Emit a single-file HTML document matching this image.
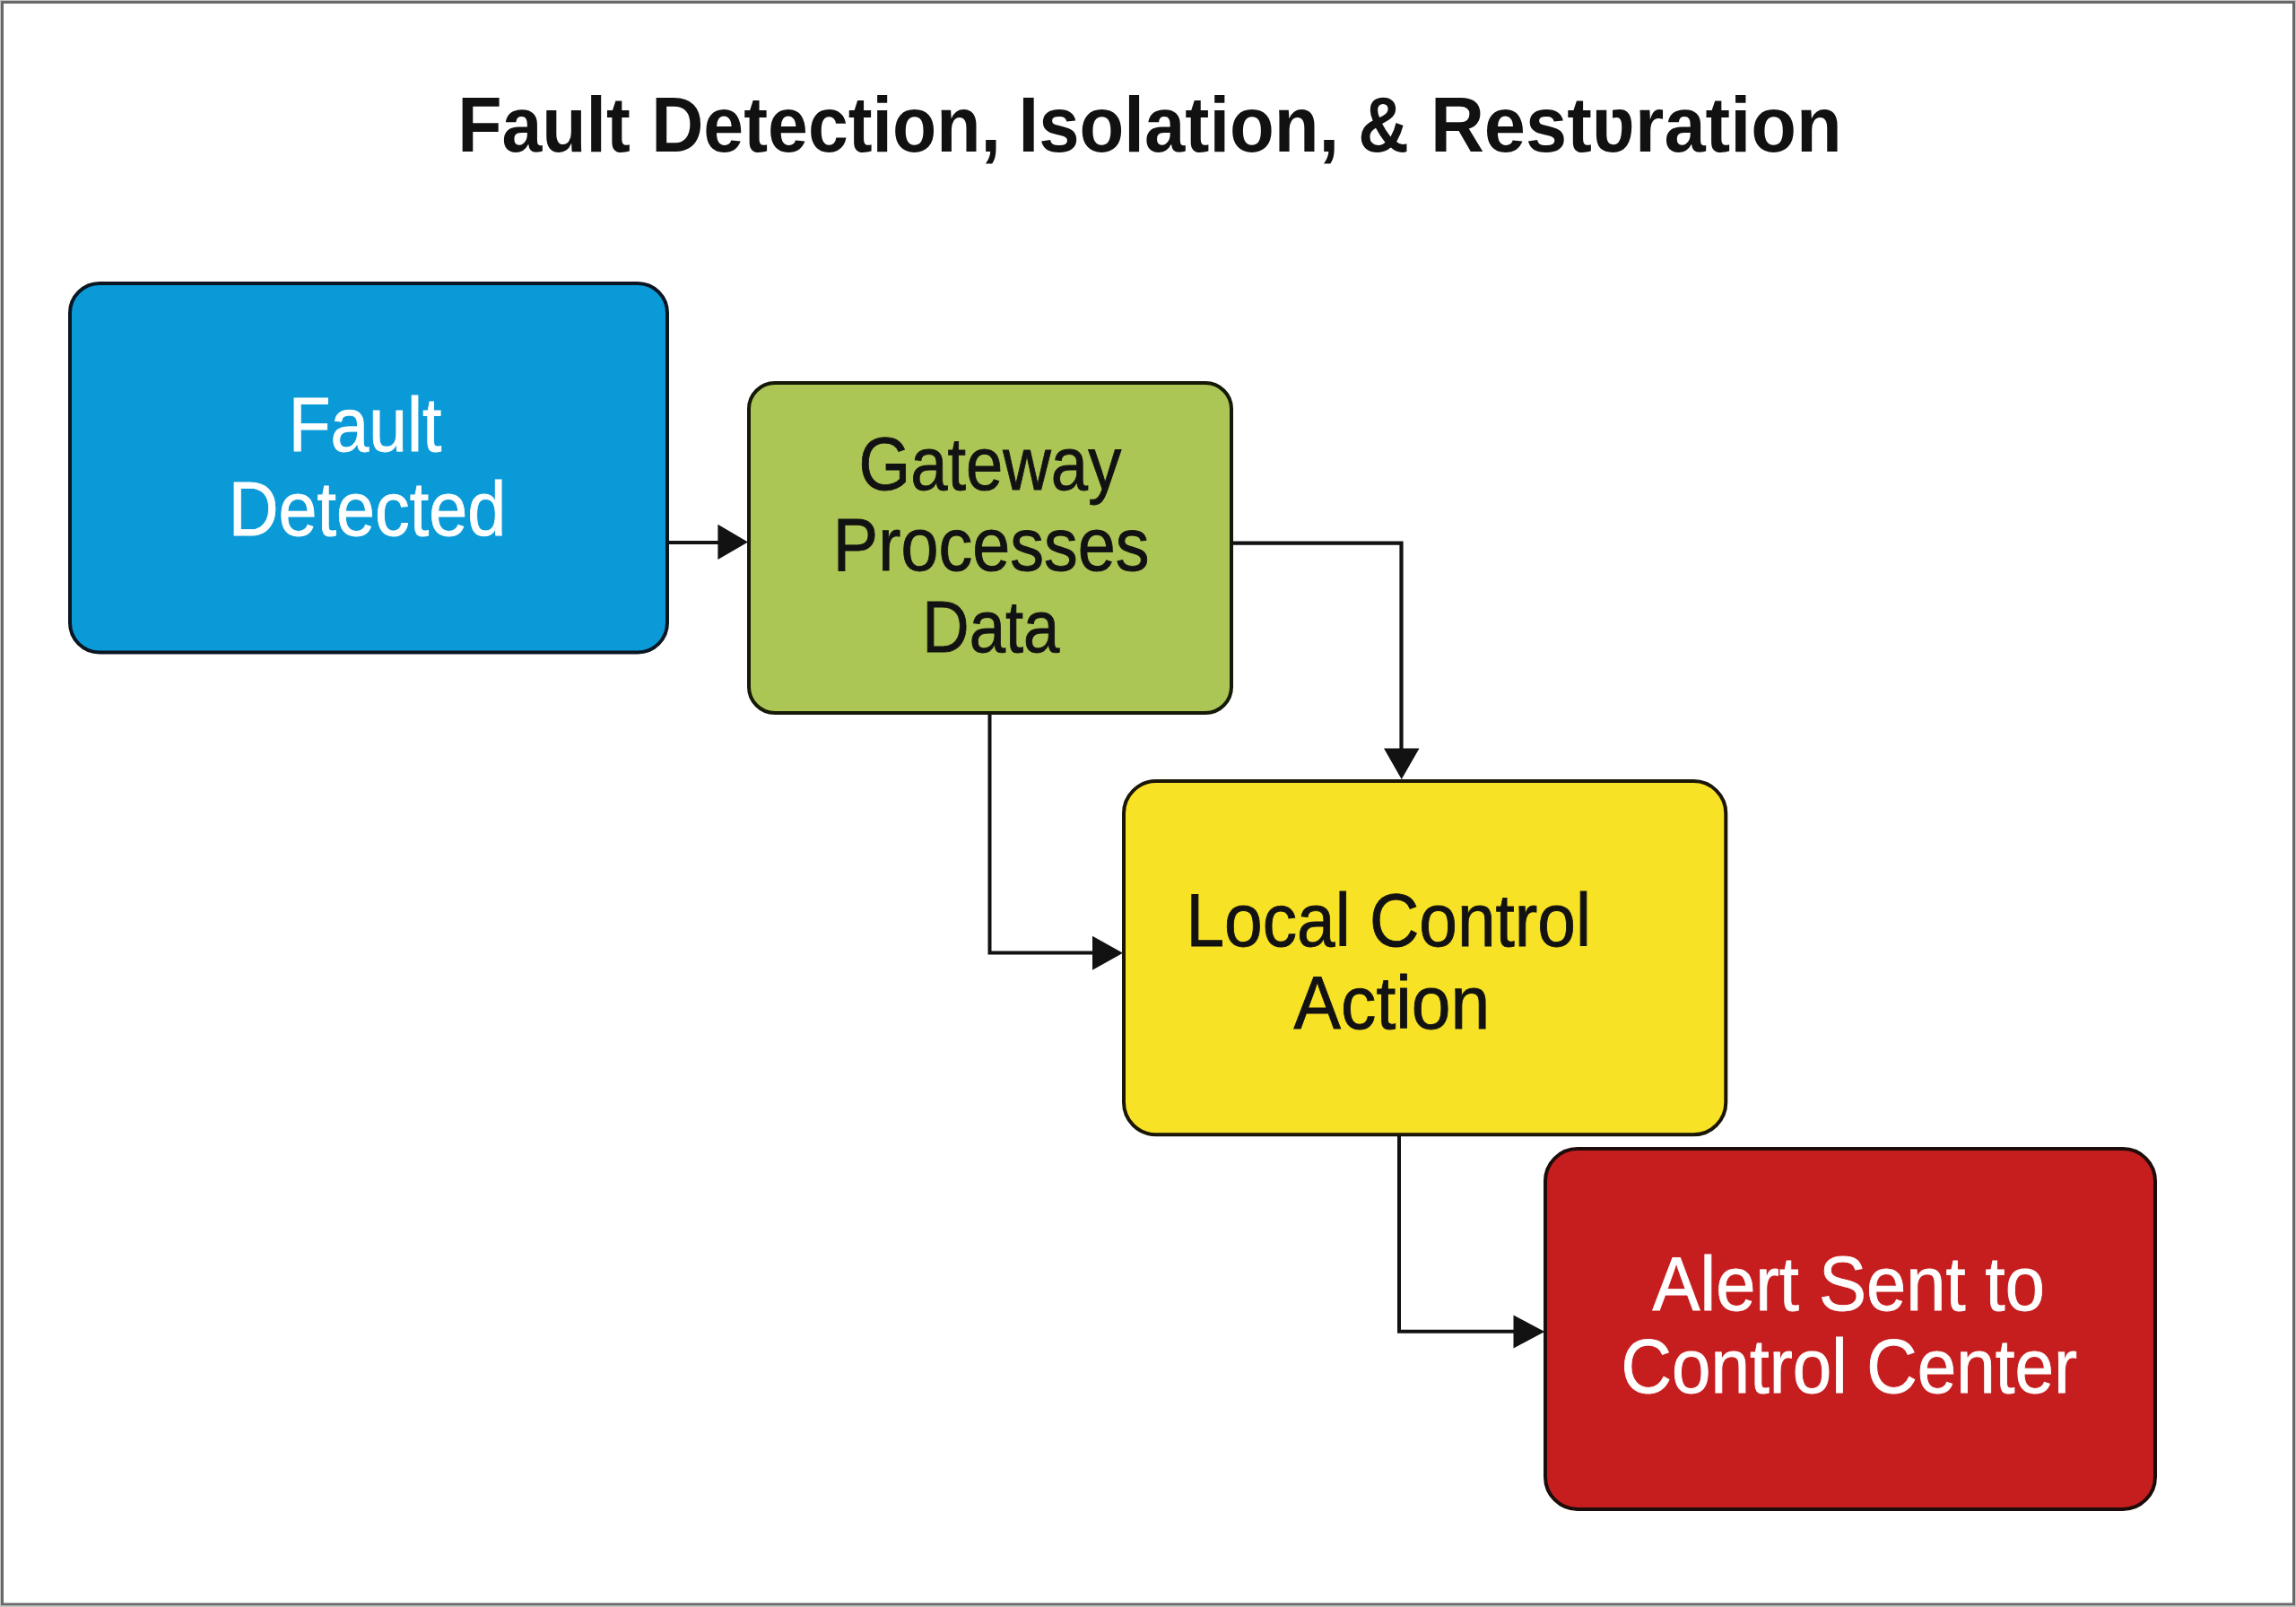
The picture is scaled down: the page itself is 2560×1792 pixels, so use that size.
<!DOCTYPE html>
<html><head><meta charset="utf-8"><title>Fault Detection, Isolation, &amp; Restoration</title>
<style>
html,body{margin:0;padding:0;background:#fff;}
body{width:2560px;height:1792px;overflow:hidden;position:relative;}
svg{position:absolute;left:0;top:0;display:block;}
text{font-family:"Liberation Sans", sans-serif;}
</style></head>
<body>
<svg width="2560" height="1792" viewBox="0 0 2560 1792">
<rect x="0" y="0" width="2560" height="1792" fill="#ffffff"/>
<rect x="0.5" y="0.5" width="2559" height="1791" fill="none" stroke="#c4c4c4" stroke-width="1"/>
<rect x="2.5" y="2.5" width="2555" height="1786.5" fill="none" stroke="#686868" stroke-width="3"/>

<path d="M746 605 H802" stroke="#121212" stroke-width="4" fill="none"/>
<polygon points="800.4,584.7 834,604.4 800.4,624" fill="#121212"/>
<path d="M1375 605.7 H1562.5 V836" stroke="#121212" stroke-width="4.2" fill="none"/>
<polygon points="1543,834.6 1582.5,834.6 1562.7,869" fill="#121212"/>
<path d="M1103.5 797 V1062.5 H1219" stroke="#121212" stroke-width="4" fill="none"/>
<polygon points="1218,1043.8 1252,1062.8 1218,1081.8" fill="#121212"/>
<path d="M1560 1267 V1484.7 H1689" stroke="#121212" stroke-width="4" fill="none"/>
<polygon points="1687.5,1466.4 1722.3,1485 1687.5,1503.6" fill="#121212"/>

<rect x="78.0" y="316.0" width="666" height="411.5" rx="33" ry="33" fill="#0a9ad8" stroke="#0b1622" stroke-width="4"/>
<rect x="835.0" y="427.0" width="538" height="368" rx="29" ry="29" fill="#acc655" stroke="#151a08" stroke-width="4"/>
<rect x="1253.0" y="871.0" width="671.3" height="394.29999999999995" rx="36" ry="36" fill="#f8e226" stroke="#1a1608" stroke-width="4"/>
<rect x="1723.0" y="1281.0" width="680" height="402" rx="36" ry="36" fill="#c61e1f" stroke="#1c0c0a" stroke-width="4"/>
<text transform="translate(510.15,168.70) scale(0.9311,1)" style="font-size:86.67px;font-weight:bold;" fill="#111111">Fault</text>
<text transform="translate(726.16,168.70) scale(0.9302,1)" style="font-size:86.67px;font-weight:bold;" fill="#111111">Detection,</text>
<text transform="translate(1135.60,168.70) scale(0.9404,1)" style="font-size:86.67px;font-weight:bold;" fill="#111111">Isolation,</text>
<text transform="translate(1514.37,168.70) scale(0.9052,1)" style="font-size:86.67px;font-weight:bold;" fill="#111111">&amp;</text>
<text transform="translate(1594.90,168.70) scale(0.9577,1)" style="font-size:86.67px;font-weight:bold;" fill="#111111">Restʋration</text>
<text transform="translate(321.66,503.20) scale(0.8938,1)" style="font-size:85.94px;" fill="#ffffff" stroke="#ffffff" stroke-width="0.9">Fault</text>
<text transform="translate(254.72,596.50) scale(0.8998,1)" style="font-size:85.94px;" fill="#ffffff" stroke="#ffffff" stroke-width="0.9">Detected</text>
<text transform="translate(957.49,546.00) scale(0.8904,1)" style="font-size:83.33px;" fill="#121212" stroke="#121212" stroke-width="0.9">Gateway</text>
<text transform="translate(928.87,636.40) scale(0.9112,1)" style="font-size:82.90px;" fill="#121212" stroke="#121212" stroke-width="0.9">Processes</text>
<text transform="translate(1028.32,727.10) scale(0.8808,1)" style="font-size:82.32px;" fill="#121212" stroke="#121212" stroke-width="0.9">Data</text>
<text transform="translate(1322.48,1054.90) scale(0.9229,1)" style="font-size:83.04px;" fill="#121212" stroke="#121212" stroke-width="0.9">Local Control</text>
<text transform="translate(1442.60,1146.60) scale(0.9375,1)" style="font-size:83.91px;" fill="#121212" stroke="#121212" stroke-width="0.9">Action</text>
<text transform="translate(1842.50,1460.80) scale(0.9312,1)" style="font-size:85.36px;" fill="#ffffff" stroke="#ffffff" stroke-width="0.9">Alert Sent to</text>
<text transform="translate(1807.59,1553.10) scale(0.9222,1)" style="font-size:84.78px;" fill="#ffffff" stroke="#ffffff" stroke-width="0.9">Control Center</text>
</svg>
</body></html>
